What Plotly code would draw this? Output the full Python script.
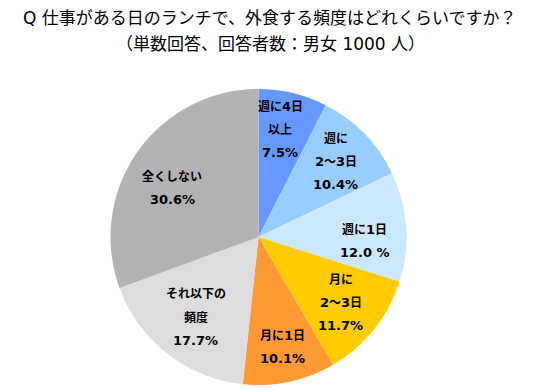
import math
import re
import plotly.graph_objects as go

# ---- data ----
categories = ["週に4日以上", "週に2～3日", "週に1日", "月に2～3日", "月に1日", "それ以下の頻度", "全くしない"]
label_lines = [
    ["週に4日", "以上", "7.5%"],
    ["週に", "2～3日", "10.4%"],
    ["週に1日", "12.0 %"],
    ["月に", "2～3日", "11.7%"],
    ["月に1日", "10.1%"],
    ["それ以下の", "頻度", "17.7%"],
    ["全くしない", "30.6%"],
]
values = [7.5, 10.4, 12.0, 11.7, 10.1, 17.7, 30.6]
title_lines = ["Q 仕事がある日のランチで、外食する頻度はどれくらいですか？",
               "（単数回答、回答者数：男女 1000 人）"]

# ---- style ----
colors = ["#6699FF", "#99CCFF", "#CCE8FF", "#FFCC00", "#FF9933", "#DDDDDD", "#B2B2B2"]
label_r = [0.74, 0.73, 0.72, 0.71, 0.76, 0.69, 0.67]
label_dtheta = [-2, 0, 6, 0, 0, 0, -5.5]
W, H = 541, 389
cx, cy, R = 258.5, 237.0, 148.0
FONT = "DejaVu Sans, Noto Sans CJK JP, sans-serif"
LINE_H = 23
CJK_SIZE = 12
TITLE_SIZE = 17

dom_x = [(cx - R) / W, (cx + R) / W]
dom_y = [(H - cy - R) / H, (H - cy + R) / H]


def shrink_cjk(s, size):
    return re.sub(r"([^\x00-\x7f]+)",
                  lambda m: '<span style="font-size:%spx">%s</span>' % (size, m.group(1)), s)


fig = go.Figure(go.Pie(
    labels=categories,
    values=values,
    sort=False,
    direction="clockwise",
    rotation=0,
    marker=dict(colors=colors, line=dict(width=0)),
    textinfo="none",
    hoverinfo="label+percent",
    domain=dict(x=dom_x, y=dom_y),
    showlegend=False,
))

total = sum(values)
cum = 0.0
annotations = []
for v, lines, rf, dt in zip(values, label_lines, label_r, label_dtheta):
    mid = (cum + v / 2) / total * 2 * math.pi + math.radians(dt)
    cum += v
    px = cx + rf * R * math.sin(mid)
    py = cy - rf * R * math.cos(mid)
    n = len(lines)
    for i, t in enumerate(lines):
        annotations.append(dict(
            x=px / W, y=1 - py / H, xref="paper", yref="paper",
            text="<b>%s</b>" % shrink_cjk(t, CJK_SIZE), showarrow=False,
            xanchor="center", yanchor="middle",
            yshift=((n - 1) / 2 - i) * LINE_H,
            font=dict(family=FONT, size=13, color="#000000"),
        ))

title_y = [18, 44]
for t, ty in zip(title_lines, title_y):
    annotations.append(dict(
        x=270 / W, y=1 - ty / H, xref="paper", yref="paper",
        text=t, showarrow=False, xanchor="center", yanchor="middle",
        font=dict(family=FONT, size=TITLE_SIZE, color="#000000"),
    ))

fig.update_layout(
    width=W, height=H,
    margin=dict(l=0, r=0, t=0, b=0),
    paper_bgcolor="white", plot_bgcolor="white",
    annotations=annotations,
)

fig.write_html("out.html", config={"displayModeBar": False},
               post_script="document.body.style.margin='0px';")
